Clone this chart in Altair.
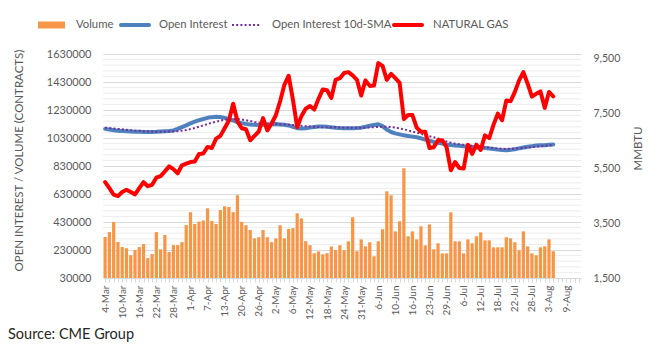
import json
import altair as alt
import pandas as pd

# ---------------- data ----------------
volume = [323000, 358000, 430000, 287000, 251000, 243000, 193000, 229000, 251000, 273000,
          172000, 201000, 358000, 235000, 337000, 216000, 265000, 265000, 286000, 408000,
          500000, 416000, 433000, 441000, 528000, 437000, 416000, 515000, 542000, 537000,
          500000, 621000, 431000, 407000, 373000, 313000, 321000, 373000, 321000, 286000,
          313000, 407000, 313000, 380000, 386000, 492000, 456000, 293000, 264000, 207000,
          220000, 200000, 207000, 255000, 229000, 264000, 229000, 292000, 464000, 221000,
          306000, 256000, 285000, 185000, 292000, 378000, 649000, 621000, 363000, 435000,
          814000, 328000, 363000, 306000, 399000, 263000, 413000, 235000, 278000, 206000,
          206000, 499000, 292000, 292000, 206000, 306000, 278000, 328000, 356000, 299000,
          299000, 249000, 249000, 249000, 321000, 313000, 285000, 228000, 363000, 256000,
          206000, 192000, 249000, 256000, 306000, 221000]

open_interest = [1095000, 1090000, 1086000, 1082000, 1080000, 1078000, 1076000, 1075000, 1074000, 1073000,
                 1072000, 1073000, 1074000, 1076000, 1078000, 1080000, 1084000, 1095000, 1108000, 1120000,
                 1135000, 1147000, 1157000, 1166000, 1174000, 1179000, 1182000, 1180000, 1174000, 1165000,
                 1155000, 1143000, 1136000, 1131000, 1127000, 1124000, 1123000, 1125000, 1126000, 1128000,
                 1130000, 1127000, 1124000, 1120000, 1110000, 1100000, 1098000, 1099000, 1104000, 1108000,
                 1112000, 1113000, 1110000, 1106000, 1103000, 1101000, 1100000, 1100000, 1100000, 1101000,
                 1104000, 1110000, 1117000, 1123000, 1128000, 1115000, 1090000, 1073000, 1063000, 1056000,
                 1049000, 1045000, 1040000, 1035000, 1028000, 1018000, 1010000, 1002000, 995000, 990000,
                 984000, 980000, 977000, 974000, 971000, 968000, 965000, 962000, 960000, 958000,
                 955000, 951000, 947000, 944000, 943000, 945000, 950000, 956000, 962000, 968000,
                 972000, 976000, 978000, 979000, 981000, 983000]

oi_sma_10d = [1104000, 1101000, 1098000, 1095000, 1092000, 1089000, 1086000, 1083000, 1081000, 1079000,
              1077000, 1076000, 1075000, 1075000, 1075000, 1076000, 1077000, 1079000, 1082000, 1087000,
              1094000, 1102000, 1111000, 1120000, 1130000, 1139000, 1147000, 1154000, 1160000, 1164000,
              1166000, 1165000, 1162000, 1157000, 1151000, 1145000, 1140000, 1136000, 1133000, 1131000,
              1130000, 1129000, 1127000, 1125000, 1122000, 1119000, 1117000, 1114000, 1112000, 1110000,
              1108000, 1107000, 1107000, 1107000, 1106000, 1105000, 1104000, 1104000, 1103000, 1103000,
              1103000, 1104000, 1105000, 1107000, 1109000, 1110000, 1110000, 1108000, 1104000, 1099000,
              1092000, 1084000, 1076000, 1068000, 1060000, 1051000, 1043000, 1035000, 1026000, 1016000,
              1006000, 997000, 990000, 985000, 981000, 978000, 975000, 972000, 969000, 966000,
              962000, 958000, 955000, 953000, 952000, 953000, 955000, 957000, 959000, 962000,
              965000, 968000, 971000, 974000, 977000, 979000]

natural_gas = [4990, 4770, 4530, 4480, 4630, 4710, 4630, 4540, 4770, 4990,
               4840, 4890, 5150, 5210, 5380, 5560, 5460, 5310, 5600, 5660,
               5720, 5740, 6010, 6030, 6270, 6230, 6570, 6670, 6950, 7230,
               7840, 7200, 6950, 6910, 6510, 6670, 6830, 7320, 6870, 7120,
               7420, 7930, 8530, 8860, 7990, 6990, 7390, 7660, 7760, 7630,
               8020, 8360, 8330, 8050, 8710, 8770, 8960, 8990, 8870, 8710,
               8140, 8690, 8490, 8500, 9320, 9220, 8710, 8930, 8770, 8600,
               7280, 7430, 7430, 6970, 6820, 6820, 6230, 6260, 6510, 6510,
               6260, 5420, 5720, 5500, 5480, 6350, 6010, 6350, 6160, 6690,
               6590, 7070, 7480, 7240, 7960, 7930, 8270, 8690, 8990, 8570,
               8100, 8200, 8290, 7690, 8270, 8110]

legend_labels = ["Volume", "Open Interest", "Open Interest 10d-SMA", "NATURAL GAS"]
left_ticks = [30000, 230000, 430000, 630000, 830000, 1030000, 1230000, 1430000, 1630000]
right_ticks = [1500, 3500, 5500, 7500, 9500]

# trading-day categories of the x axis (4-Mar-2022 .. 12-Aug-2022)
holidays = {"2022-04-15", "2022-05-30", "2022-06-20", "2022-07-04"}
days = [d for d in pd.bdate_range("2022-03-04", "2022-08-12") if d.strftime("%Y-%m-%d") not in holidays]
date_labels = [f"{d.day}-{d.strftime('%b')}" for d in days]
n_cat = len(date_labels)

n = len(volume)
df = pd.DataFrame({
    "i": list(range(n)),
    "date": date_labels[:n],
    "volume": volume,
    "oi": open_interest,
    "sma": oi_sma_10d,
    "ng": natural_gas,
})

# ---------------- styling ----------------
W, H = 478, 224
FONT = "Lato"
GREY = "#595959"
ORANGE = "#F79646"
BLUE = "#4F81BD"
PURPLE = "#7030A0"
RED = "#FF0000"


def xscale():
    return alt.Scale(domain=[-0.5, n_cat - 0.5], nice=False, zero=False)


def yleft():
    return alt.Scale(domain=[30000, 1630000], nice=False, zero=False)


yright = alt.Scale(domain=[1500, 9650], nice=False, zero=False)

label_expr = f"datum.value % 4 === 0 ? {json.dumps(date_labels)}[datum.value] : ''"
xaxis = alt.Axis(values=list(range(n_cat)), labelExpr=label_expr, labelAngle=270,
                 labelOverlap=False, labelFontSize=10, labelPadding=3, tickSize=4,
                 tickColor="#d9d9d9", domainColor="#d9d9d9", grid=False, title=None,
                 labelColor=GREY, labelFont=FONT)

minor_vals = [v for v in range(30000, 1630001, 40000) if (v - 30000) % 200000 != 0]
grid_df = pd.DataFrame({"g": minor_vals})

minor_grid = alt.Chart(grid_df).mark_rule(color="#ececec", strokeWidth=1).encode(
    y=alt.Y("g:Q", scale=yleft(), axis=None)
)

bars = alt.Chart(df).transform_calculate(
    x1="datum.i - 0.38", x2="datum.i + 0.38"
).mark_bar(color=ORANGE).encode(
    x=alt.X("x1:Q", scale=xscale(), axis=xaxis),
    x2="x2:Q",
    y=alt.Y("volume:Q", scale=yleft(),
            axis=alt.Axis(values=left_ticks, format="d", grid=True, gridColor="#d9d9d9",
                          domain=False, ticks=False, labelPadding=12, labelFontSize=11,
                          labelColor=GREY, labelFont=FONT,
                          title="OPEN INTEREST / VOLUME (CONTRACTS)", titleFontSize=11.5,
                          titleColor=GREY, titleFont=FONT, titleFontWeight="normal",
                          titleAngle=270, titleX=-84, titleY=106, titleAlign="center",
                          titleBaseline="middle")),
    y2=alt.datum(30000),
)

oi_line = alt.Chart(df).mark_line(color=BLUE, strokeWidth=4, strokeJoin="round", strokeCap="round").encode(
    x=alt.X("i:Q", scale=xscale(), axis=None),
    y=alt.Y("oi:Q", scale=yleft(), axis=None),
)

sma_line = alt.Chart(df).mark_line(color=PURPLE, strokeWidth=2, strokeDash=[2, 2.2]).encode(
    x=alt.X("i:Q", scale=xscale(), axis=None),
    y=alt.Y("sma:Q", scale=yleft(), axis=None),
)

ng_line = alt.Chart(df).mark_line(color=RED, strokeWidth=4, strokeJoin="round", strokeCap="round").encode(
    x=alt.X("i:Q", scale=xscale(), axis=None),
    y=alt.Y("ng:Q", scale=yright,
            axis=alt.Axis(orient="right", values=right_ticks, format=",.0f", grid=False,
                          domain=False, ticks=False, labelPadding=12, labelFontSize=10.5,
                          labelColor=GREY, labelFont=FONT, title="MMBTU", titleFontSize=11.5,
                          titleColor=GREY, titleFont=FONT, titleFontWeight="normal",
                          titleAngle=270, titleX=57, titleY=94, titleAlign="center",
                          titleBaseline="middle")),
)

one = pd.DataFrame({"k": [0]})
LY = -29
leg_rect = alt.Chart(one).mark_rect(color=ORANGE).encode(
    x=alt.value(-65), x2=alt.value(-38), y=alt.value(LY - 3.5), y2=alt.value(LY + 3.5))
leg_blue = alt.Chart(one).mark_rule(color=BLUE, strokeWidth=4, strokeCap="round").encode(
    x=alt.value(18), x2=alt.value(46), y=alt.value(LY))
leg_sma = alt.Chart(one).mark_rule(color=PURPLE, strokeWidth=2, strokeDash=[2, 2.2]).encode(
    x=alt.value(129), x2=alt.value(157), y=alt.value(LY))
leg_red = alt.Chart(one).mark_rule(color=RED, strokeWidth=4, strokeCap="round").encode(
    x=alt.value(291), x2=alt.value(319), y=alt.value(LY))


def leg_text(label, x):
    return alt.Chart(one).mark_text(align="left", baseline="middle", font=FONT, fontSize=11.3,
                                    color=GREY, text=label).encode(
        x=alt.value(x), y=alt.value(LY))


source = alt.Chart(one).mark_text(align="left", baseline="middle", font=FONT, fontSize=14.5,
                                  color="#262626", text="Source: CME Group").encode(
    x=alt.value(-95), y=alt.value(281))

chart = alt.layer(
    minor_grid, bars, oi_line, sma_line, ng_line,
    leg_rect, leg_blue, leg_sma, leg_red,
    leg_text(legend_labels[0], -27), leg_text(legend_labels[1], 56),
    leg_text(legend_labels[2], 169), leg_text(legend_labels[3], 330),
    source,
).resolve_scale(x="independent", y="independent").properties(
    width=W, height=H,
    padding={"left": 103, "top": 54, "right": 88, "bottom": 79},
    autosize=alt.AutoSizeParams(type="none"),
    background="white",
).configure_view(stroke=None)

chart.save("out.html", embed_options={"renderer": "svg", "actions": False})
